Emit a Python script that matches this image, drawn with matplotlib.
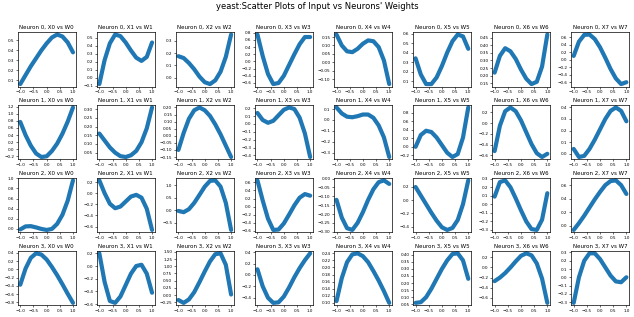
import matplotlib
matplotlib.use("Agg")
import matplotlib.pyplot as plt
from matplotlib.ticker import MaxNLocator

x_values = [-1.0, -0.8, -0.6, -0.4, -0.2, 0.0, 0.2, 0.4, 0.6, 0.8, 1.0]

# Neuron 0
n0_w0 = [0.06, 0.15, 0.24, 0.32, 0.40, 0.47, 0.53, 0.56, 0.54, 0.48, 0.38]
n0_w1 = [-0.08, 0.22, 0.43, 0.54, 0.52, 0.44, 0.34, 0.25, 0.21, 0.26, 0.44]
n0_w2 = [0.175, 0.16, 0.12, 0.07, 0.01, -0.035, -0.05, -0.02, 0.05, 0.17, 0.35]
n0_w3 = [0.75, 0.15, -0.35, -0.63, -0.60, -0.40, -0.10, 0.20, 0.48, 0.68, 0.68]
n0_w4 = [0.165, 0.10, 0.065, 0.06, 0.08, 0.11, 0.13, 0.125, 0.09, 0.01, -0.13]
n0_w5 = [0.34, 0.17, 0.07, 0.07, 0.14, 0.26, 0.40, 0.52, 0.59, 0.57, 0.44]
n0_w6 = [0.22, 0.33, 0.38, 0.36, 0.31, 0.24, 0.18, 0.145, 0.16, 0.26, 0.47]
n0_w7 = [0.10, 0.48, 0.66, 0.67, 0.55, 0.33, 0.05, -0.25, -0.50, -0.65, -0.60]

# Neuron 1
n1_w0 = [0.77, 0.40, 0.10, -0.12, -0.22, -0.20, -0.05, 0.16, 0.44, 0.78, 1.18]
n1_w1 = [0.16, 0.12, 0.08, 0.05, 0.03, 0.025, 0.035, 0.06, 0.11, 0.19, 0.31]
n1_w2 = [-0.10, 0.02, 0.12, 0.18, 0.20, 0.18, 0.14, 0.08, 0.01, -0.07, -0.15]
n1_w3 = [0.14, 0.05, 0.015, 0.04, 0.11, 0.18, 0.21, 0.19, 0.08, -0.12, -0.42]
n1_w4 = [0.115, 0.06, 0.03, 0.025, 0.035, 0.05, 0.05, 0.02, -0.05, -0.16, -0.34]
n1_w5 = [0.0, 0.28, 0.38, 0.35, 0.22, 0.04, -0.14, -0.24, -0.17, 0.22, 0.93]
n1_w6 = [-0.52, -0.05, 0.22, 0.29, 0.22, 0.05, -0.17, -0.39, -0.56, -0.63, -0.57]
n1_w7 = [0.04, -0.03, -0.02, 0.04, 0.12, 0.21, 0.30, 0.37, 0.40, 0.37, 0.28]

# Neuron 2
n2_w0 = [-0.01, 0.05, 0.055, 0.03, 0.0, -0.02, 0.0, 0.10, 0.28, 0.56, 0.96]
n2_w1 = [0.23, 0.0, -0.19, -0.27, -0.24, -0.15, -0.06, -0.03, -0.08, -0.28, -0.66]
n2_w2 = [-0.02, -0.07, 0.05, 0.30, 0.62, 0.95, 1.18, 1.20, 0.95, 0.30, -0.78]
n2_w3 = [0.65, 0.15, -0.30, -0.58, -0.57, -0.42, -0.20, 0.03, 0.22, 0.31, 0.27]
n2_w4 = [-0.12, -0.22, -0.28, -0.29, -0.25, -0.19, -0.12, -0.06, -0.02, -0.01, -0.03]
n2_w5 = [0.20, 0.07, -0.06, -0.19, -0.31, -0.41, -0.45, -0.42, -0.30, -0.06, 0.30]
n2_w6 = [0.09, 0.26, 0.28, 0.20, 0.07, -0.07, -0.20, -0.29, -0.30, -0.18, 0.13]
n2_w7 = [-0.06, 0.04, 0.15, 0.27, 0.39, 0.50, 0.60, 0.66, 0.67, 0.60, 0.47]

# Neuron 3
n3_w0 = [-0.37, 0.02, 0.28, 0.39, 0.36, 0.24, 0.06, -0.14, -0.36, -0.59, -0.81]
n3_w1 = [0.20, -0.25, -0.55, -0.58, -0.48, -0.30, -0.12, 0.0, 0.02, -0.12, -0.42]
n3_w2 = [-0.17, -0.27, -0.15, 0.10, 0.45, 0.82, 1.17, 1.42, 1.45, 1.05, 0.02]
n3_w3 = [0.10, -0.20, -0.40, -0.49, -0.48, -0.38, -0.22, -0.04, 0.12, 0.26, 0.38]
n3_w4 = [0.105, 0.17, 0.215, 0.237, 0.24, 0.232, 0.215, 0.19, 0.163, 0.133, 0.10]
n3_w5 = [0.06, 0.065, 0.10, 0.16, 0.23, 0.30, 0.36, 0.405, 0.41, 0.36, 0.23]
n3_w6 = [-0.27, -0.20, -0.11, 0.0, 0.12, 0.23, 0.28, 0.24, 0.08, -0.22, -0.70]
n3_w7 = [-0.31, 0.0, 0.20, 0.29, 0.29, 0.22, 0.12, 0.02, -0.05, -0.06, 0.0]

neurons = [
    [n0_w0, n0_w1, n0_w2, n0_w3, n0_w4, n0_w5, n0_w6, n0_w7],
    [n1_w0, n1_w1, n1_w2, n1_w3, n1_w4, n1_w5, n1_w6, n1_w7],
    [n2_w0, n2_w1, n2_w2, n2_w3, n2_w4, n2_w5, n2_w6, n2_w7],
    [n3_w0, n3_w1, n3_w2, n3_w3, n3_w4, n3_w5, n3_w6, n3_w7],
]
x_ticks = [-1.0, -0.5, 0.0, 0.5, 1.0]
title = "yeast:Scatter Plots of Input vs Neurons' Weights"

fig, axes = plt.subplots(4, 8, figsize=(6.34, 3.17), dpi=100)
for i, row in enumerate(neurons):
    for j, ys in enumerate(row):
        ax = axes[i, j]
        ax.plot(x_values, ys, color="#1f77b4", lw=3.0,
                solid_capstyle="round", solid_joinstyle="round")
        ax.set_title(f"Neuron {i}, X{j} vs W{j}", fontsize=4, pad=2)
        ax.set_xticks(x_ticks)
        ax.yaxis.set_major_locator(MaxNLocator(nbins=8, steps=[1, 2, 2.5, 5, 10]))
        ax.tick_params(labelsize=3, length=1.5, width=0.4, pad=1)
        for s in ax.spines.values():
            s.set_linewidth(0.5)
fig.suptitle(title, fontsize=6, y=0.995)
fig.tight_layout(pad=0.3, h_pad=0.3, w_pad=0.3, rect=[0, 0, 1, 0.975])
fig.savefig("out.png", dpi=100)
